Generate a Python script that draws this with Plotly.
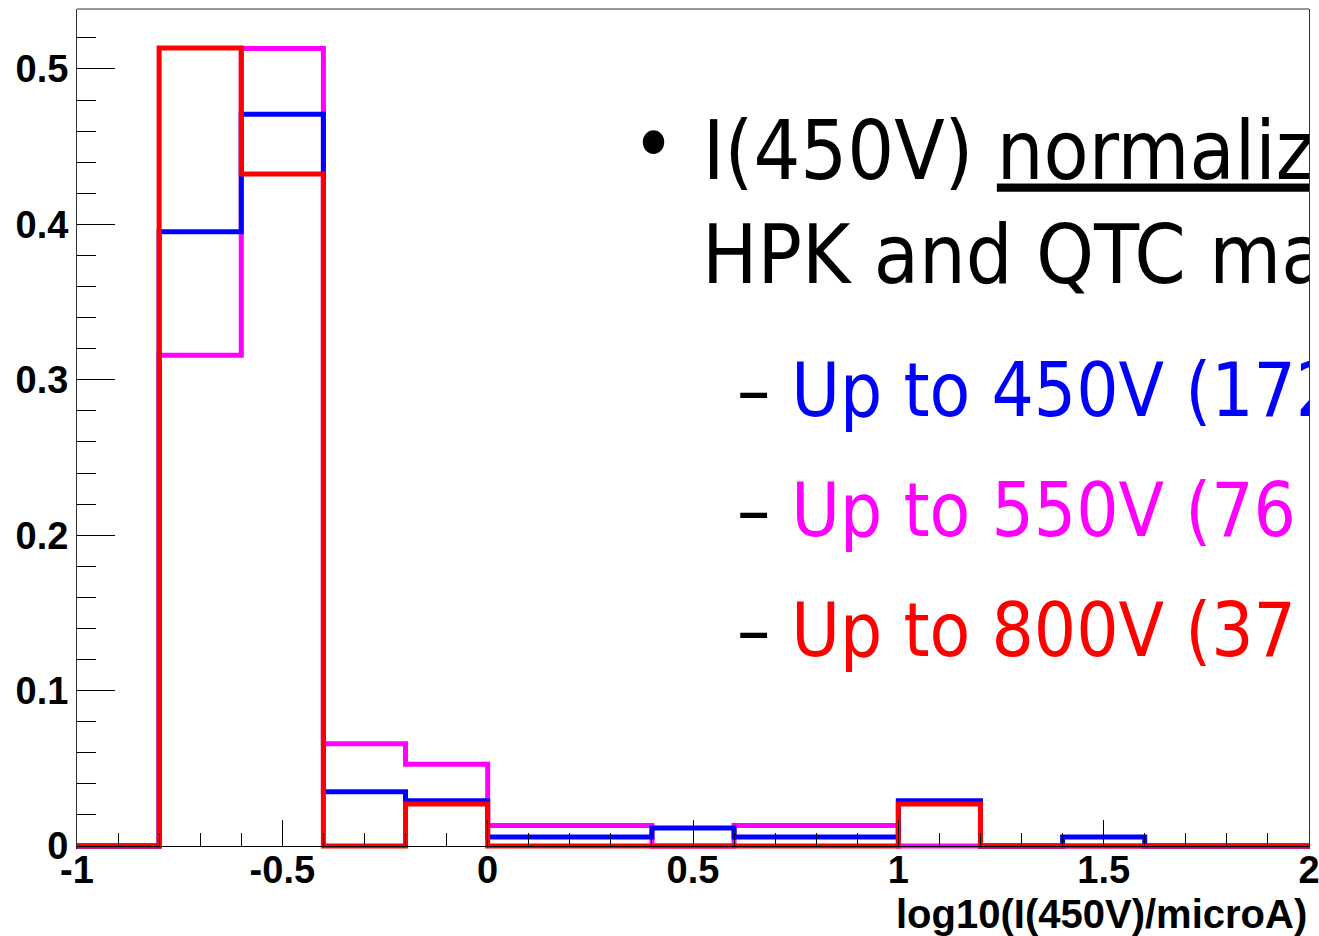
import plotly.graph_objects as go

# ---- data ----
bin_edges = [-1.0, -0.8, -0.6, -0.4, -0.2, 0.0, 0.2, 0.4, 0.6, 0.8, 1.0, 1.2, 1.4, 1.6, 1.8, 2.0]
counts_450 = [0, 68, 81, 6, 5, 1, 1, 2, 1, 1, 5, 0, 1, 0, 0]
counts_550 = [0, 24, 39, 5, 4, 1, 1, 0, 1, 1, 0, 0, 0, 0, 0]
counts_800 = [0, 19, 16, 0, 1, 0, 0, 0, 0, 0, 1, 0, 0, 0, 0]
n_450, n_550, n_800 = 172, 76, 37

x_tickvals = [-1, -0.5, 0, 0.5, 1, 1.5, 2]
x_ticktext = ["-1", "-0.5", "0", "0.5", "1", "1.5", "2"]
y_tickvals = [0, 0.1, 0.2, 0.3, 0.4, 0.5]
y_ticktext = ["0", "0.1", "0.2", "0.3", "0.4", "0.5"]

x_title = "log10(I(450V)/microA)"

slide_texts = [
    "\u2022",
    "I(450V) <u>normalized</u>",
    "HPK and QTC ma",
    "\u2013 <span style='color:#0000ff'>Up to 450V (172</span>",
    "\u2013 <span style='color:#ff00ff'>Up to 550V (76</span>",
    "\u2013 <span style='color:#ff0000'>Up to 800V (37</span>",
]
slide_x = [0.404, 0.524, 0.522, 0.607, 0.607, 0.607]
slide_y = [0.4460, 0.4427, 0.3758, 0.2889, 0.2117, 0.1345]
slide_size = [82, 82, 82, 74, 74, 74]
slide_pos = ["middle center", "middle right", "middle right",
             "middle right", "middle right", "middle right"]

Y_MIN, Y_MAX = -0.0019, 0.5386


def step_y(counts, n):
    vals = [c / n for c in counts]
    return vals + [vals[-1]]


fig = go.Figure()
for counts, n, color in [(counts_550, n_550, "#ff00ff"),
                         (counts_450, n_450, "#0000ff"),
                         (counts_800, n_800, "#ff0000")]:
    fig.add_trace(go.Scatter(
        x=bin_edges, y=step_y(counts, n), mode="lines",
        line=dict(color=color, width=5, shape="hv"),
        showlegend=False, hoverinfo="skip"))

fig.add_trace(go.Scatter(
    x=slide_x, y=slide_y, mode="text", text=slide_texts,
    textposition=slide_pos,
    textfont=dict(family="DejaVu Sans Condensed, DejaVu Sans", size=slide_size, color="black"),
    cliponaxis=True, showlegend=False, hoverinfo="skip"))

fig.update_layout(
    width=1319, height=936,
    margin=dict(l=77, r=10, t=9, b=87, autoexpand=False),
    paper_bgcolor="white", plot_bgcolor="white",
    xaxis=dict(
        range=[-1, 2], anchor="free", position=0.0035, automargin=False,
        showline=True, linecolor="black", linewidth=1,
        showgrid=False, zeroline=False,
        tickmode="array", tickvals=x_tickvals, ticktext=x_ticktext,
        ticks="inside", ticklen=26, tickcolor="black", tickwidth=1,
        minor=dict(tickmode="linear", tick0=-1, dtick=0.1, ticks="inside",
                   ticklen=13, tickcolor="black", tickwidth=1, showgrid=False),
        tickfont=dict(family="Liberation Sans", size=38, color="black", weight="bold"),
        ticklabelstandoff=-10,
        ticklabeloverflow="allow",
    ),
    yaxis=dict(
        range=[Y_MIN, Y_MAX], automargin=False,
        showline=True, mirror=True, linecolor="#333333", linewidth=1,
        showgrid=False, zeroline=False,
        tickmode="array", tickvals=y_tickvals, ticktext=y_ticktext,
        ticks="inside", ticklen=38, tickcolor="black", tickwidth=1,
        minor=dict(tickmode="linear", tick0=0, dtick=0.02, ticks="inside",
                   ticklen=19, tickcolor="black", tickwidth=1, showgrid=False),
        tickfont=dict(family="Liberation Sans", size=38, color="black", weight="bold"),
        ticklabelstandoff=0,
    ),
    shapes=[dict(type="line", xref="paper", yref="paper", x0=0, x1=1, y0=1, y1=1,
                 line=dict(color="#333333", width=1))],
    annotations=[dict(text=x_title, xref="paper", yref="paper", x=1, y=0,
                      xanchor="right", yanchor="top", yshift=-41, showarrow=False,
                      font=dict(family="Liberation Sans", size=40, color="black", weight="bold"))],
)

fig.write_html("out.html")
